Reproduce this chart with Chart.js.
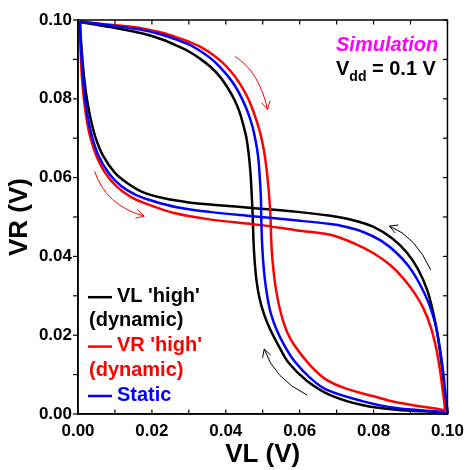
<!DOCTYPE html>
<html><head><meta charset="utf-8">
<script src="https://cdn.jsdelivr.net/npm/chart.js@4/dist/chart.umd.min.js"></script>
<style>html,body{margin:0;padding:0;background:#fff}#wrap{width:471px;height:470px}</style>
</head><body><div id="wrap"><canvas id="c" width="471" height="470"></canvas></div>
<script>
// ---- data (V) ----
const tickLabels = ['0.00','0.02','0.04','0.06','0.08','0.10'];
// Black: VL 'high' (dynamic) – loop: upper/middle branch to (0.1,0), then back along the other branch
const blackX = [0.0005,0.0088,0.0178,0.0230,0.0267,0.0300,0.0330,0.0360,0.0385,0.0405,0.0422,0.0436,0.0447,0.0456,0.0462,0.0467,0.0470,0.0473,0.0475,0.0478,0.0483,0.0491,0.0503,0.0520,0.0542,0.0570,0.0620,0.0683,0.0772,0.0861,0.0986,0.1000,
                0.0993,0.0985,0.0975,0.0962,0.0945,0.0920,0.0890,0.0850,0.0800,0.0740,0.0683,0.0594,0.0472,0.0380,0.0300,0.0230,0.0175,0.0135,0.0100,0.0068,0.0048,0.0034,0.0024,0.0017,0.0012,0.0008,0.0005];
const blackY = [0.0995,0.0982,0.0965,0.0950,0.0935,0.0920,0.0902,0.0880,0.0855,0.0828,0.0800,0.0770,0.0735,0.0700,0.0660,0.0610,0.0560,0.0499,0.0440,0.0390,0.0340,0.0295,0.0255,0.0215,0.0175,0.0130,0.0084,0.0048,0.0022,0.0011,0.0004,0.0002,
                0.0050,0.0120,0.0190,0.0255,0.0315,0.0368,0.0410,0.0446,0.0475,0.0493,0.0503,0.0513,0.0523,0.0530,0.0537,0.0548,0.0563,0.0585,0.0612,0.0655,0.0700,0.0750,0.0800,0.0850,0.0900,0.0950,0.0995];
// Red: VR 'high' (dynamic)
const redX = [0.0005,0.0089,0.0178,0.0230,0.0267,0.0300,0.0335,0.0365,0.0390,0.0415,0.0435,0.0455,0.0470,0.0483,0.0494,0.0503,0.0510,0.0516,0.0521,0.0523,0.0527,0.0536,0.0548,0.0565,0.0585,0.0629,0.0674,0.0730,0.0800,0.0861,0.0986,0.0993,
              0.0987,0.0980,0.0970,0.0955,0.0935,0.0910,0.0880,0.0845,0.0800,0.0750,0.0683,0.0594,0.0490,0.0356,0.0260,0.0195,0.0145,0.0105,0.0073,0.0050,0.0034,0.0023,0.0016,0.0011,0.0008,0.0006,0.0005];
const redY = [0.0996,0.0988,0.0978,0.0967,0.0956,0.0945,0.0930,0.0912,0.0893,0.0868,0.0843,0.0811,0.0780,0.0745,0.0710,0.0670,0.0625,0.0570,0.0499,0.0440,0.0384,0.0315,0.0260,0.0210,0.0175,0.0123,0.0086,0.0063,0.0045,0.0030,0.0011,0.0010,
              0.0060,0.0110,0.0165,0.0220,0.0268,0.0308,0.0345,0.0378,0.0408,0.0432,0.0455,0.0466,0.0480,0.0494,0.0510,0.0530,0.0550,0.0577,0.0613,0.0655,0.0700,0.0750,0.0800,0.0850,0.0900,0.0950,0.0996];
// Blue: Static
const blueX = [0.0005,0.0089,0.0178,0.0230,0.0267,0.0300,0.0330,0.0360,0.0385,0.0408,0.0428,0.0445,0.0460,0.0472,0.0481,0.0488,0.0492,0.0495,0.0496,0.0498,0.0501,0.0506,0.0513,0.0522,0.0537,0.0558,0.0585,0.0629,0.0674,0.0772,0.0861,0.0986,0.1000,
               0.0995,0.0988,0.0979,0.0967,0.0950,0.0925,0.0895,0.0861,0.0820,0.0772,0.0720,0.0683,0.0594,0.0472,0.0356,0.0267,0.0205,0.0155,0.0115,0.0082,0.0056,0.0039,0.0027,0.0019,0.0014,0.0010,0.0007,0.0005];
const blueY = [0.0996,0.0986,0.0974,0.0962,0.0950,0.0938,0.0922,0.0902,0.0880,0.0855,0.0828,0.0798,0.0765,0.0730,0.0692,0.0650,0.0600,0.0550,0.0499,0.0440,0.0390,0.0340,0.0295,0.0255,0.0215,0.0175,0.0135,0.0091,0.0061,0.0032,0.0015,0.0005,0.0002,
               0.0046,0.0110,0.0170,0.0230,0.0280,0.0330,0.0375,0.0410,0.0440,0.0462,0.0476,0.0482,0.0491,0.0502,0.0513,0.0525,0.0540,0.0557,0.0580,0.0613,0.0655,0.0700,0.0750,0.0800,0.0850,0.0900,0.0950,0.0996];
// Sweep-direction arrows (start, control, end) in data units
const arrows = [
  {color:'#ff0000', pts:[[0.0424,0.0908],[0.0490,0.0870],[0.0513,0.0773]]},
  {color:'#ff0000', pts:[[0.0045,0.0616],[0.0075,0.0530],[0.0179,0.0502]]},
  {color:'#000000', pts:[[0.0955,0.0365],[0.0915,0.0450],[0.0843,0.0477]]},
  {color:'#000000', pts:[[0.0620,0.0048],[0.0530,0.0090],[0.0504,0.0165]]}
];
const legendItems = [
  {lines:["VL 'high'","(dynamic)"], color:'#000000'},
  {lines:["VR 'high'","(dynamic)"], color:'#ff0000'},
  {lines:["Static"], color:'#0000ff'}
];

const zip = (xs, ys) => xs.map((v,i)=>({x:v, y:ys[i]}));
const FONT = "'Liberation Sans', Arial, sans-serif";

const framePlugin = {
  id:'frame',
  afterDraw(chart){
    const {ctx, chartArea:a, scales:{x,y}} = chart;
    ctx.save();
    const line=(x1,y1,x2,y2)=>{ctx.beginPath();ctx.moveTo(x1,y1);ctx.lineTo(x2,y2);ctx.stroke();};
    ctx.strokeStyle='#000'; ctx.lineWidth=1.5;
    ctx.strokeRect(a.left,a.top,a.right-a.left,a.bottom-a.top);
    ctx.lineWidth=1.2;
    x.ticks.forEach(t=>{const p=x.getPixelForValue(t.value); line(p,a.bottom,p,a.bottom-4.5); line(p,a.top,p,a.top+4.5);});
    y.ticks.forEach(t=>{const p=y.getPixelForValue(t.value); line(a.left-5,p,a.left,p); line(a.right,p,a.right-4.5,p);});
    // arrows
    ctx.lineWidth=1;
    arrows.forEach(ar=>{
      const P=ar.pts.map(q=>[x.getPixelForValue(q[0]),y.getPixelForValue(q[1])]);
      ctx.strokeStyle=ar.color;
      ctx.beginPath(); ctx.moveTo(P[0][0],P[0][1]); ctx.quadraticCurveTo(P[1][0],P[1][1],P[2][0],P[2][1]); ctx.stroke();
      const ang=Math.atan2(P[2][1]-P[1][1],P[2][0]-P[1][0]);
      const L=9, s=0.5;
      ctx.beginPath();
      ctx.moveTo(P[2][0]-L*Math.cos(ang-s),P[2][1]-L*Math.sin(ang-s));
      ctx.lineTo(P[2][0],P[2][1]);
      ctx.lineTo(P[2][0]-L*Math.cos(ang+s),P[2][1]-L*Math.sin(ang+s));
      ctx.stroke();
    });
    // legend
    ctx.textBaseline='middle'; ctx.textAlign='left';
    ctx.font="bold 20px "+FONT;
    let row=0; const step=24.7; const y0=a.bottom-19-step*4;
    legendItems.forEach(it=>{
      it.lines.forEach((t,j)=>{
        const yy=y0+row*step;
        ctx.fillStyle=it.color;
        if(j===0){ ctx.strokeStyle=it.color; ctx.lineWidth=2.5; line(a.left+10,yy+1,a.left+34,yy+1); ctx.fillText(t,a.left+39,yy); }
        else ctx.fillText(t,a.left+11,yy);
        row++;
      });
    });
    // annotations
    ctx.textBaseline='alphabetic';
    ctx.font="italic bold 20px "+FONT; ctx.fillStyle='#ff00ff';
    ctx.fillText('Simulation',336,51);
    ctx.fillStyle='#000';
    ctx.font="bold 20px "+FONT; ctx.fillText('V',336,75);
    let w=ctx.measureText('V').width;
    ctx.font="bold 14px "+FONT; ctx.fillText('dd',336+w,81);
    w+=ctx.measureText('dd').width;
    ctx.font="bold 20px "+FONT; ctx.fillText(' = 0.1 V',336+w,75);
    ctx.restore();
  }
};

const lbl = v => { const k=Math.round(v*100); return k%2===0 ? tickLabels[k/2] : ''; };
const ds = (xs,ys,c)=>({data:zip(xs,ys), borderColor:c, backgroundColor:c, borderWidth:2.5, showLine:true, pointRadius:0, tension:0.35, fill:false, clip:4});

new Chart(document.getElementById('c'),{
  type:'scatter',
  data:{datasets:[ds(blueX,blueY,'#0000ff'), ds(redX,redY,'#ff0000'), ds(blackX,blackY,'#000000')]},
  options:{
    responsive:false, animation:false, devicePixelRatio:1,
    layout:{padding:{top:20,right:19,left:0,bottom:0}},
    plugins:{legend:{display:false}, tooltip:{enabled:false}},
    scales:{
      x:{type:'linear',min:0,max:0.1,
        ticks:{stepSize:0.01,autoSkip:false,maxRotation:0,callback:lbl,padding:7,color:'#000',font:{family:FONT,weight:'bold',size:17}},
        grid:{drawOnChartArea:false,drawTicks:false}, border:{display:true,color:'#000',width:1.5},
        title:{display:true,text:'VL (V)',color:'#000',font:{family:FONT,weight:'bold',size:26},padding:{top:0,bottom:0}},
        afterFit(s){s.height=56;}},
      y:{type:'linear',min:0,max:0.1,
        ticks:{stepSize:0.01,autoSkip:false,callback:lbl,padding:6,color:'#000',font:{family:FONT,weight:'bold',size:17}},
        grid:{drawOnChartArea:false,drawTicks:false}, border:{display:true,color:'#000',width:1.5},
        title:{display:true,text:'VR (V)',color:'#000',font:{family:FONT,weight:'bold',size:26},padding:{top:4,bottom:0}},
        afterFit(s){s.width=78;}}
    }
  },
  plugins:[framePlugin]
});
</script></body></html>
